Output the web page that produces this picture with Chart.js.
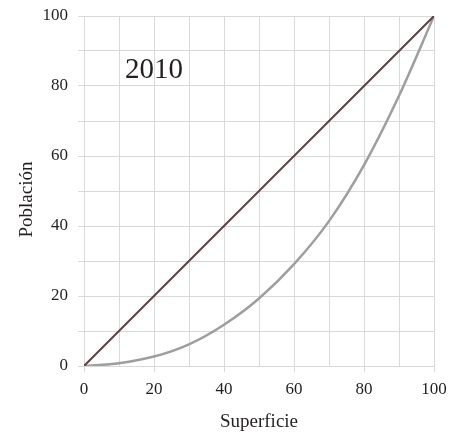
<!DOCTYPE html>
<html lang="es">
<head>
<meta charset="utf-8">
<title>Curva de Lorenz 2010</title>
<script src="https://cdn.jsdelivr.net/npm/chart.js@4/dist/chart.umd.min.js"></script>
<style>
  html, body { margin: 0; padding: 0; background: #ffffff; }
  #wrap { position: relative; width: 449px; height: 436px; }
</style>
</head>
<body>
<div id="wrap"><canvas id="lorenz"></canvas></div>
<script>
// Superficie acumulada (%) y población acumulada (%), por deciles
const superficie = [0, 10, 20, 30, 40, 50, 60, 70, 80, 90, 100];
const poblacion = [0, 0.8, 2.7, 6.2, 11.8, 19.3, 29.1, 41.4, 57.4, 77.2, 100];

// Línea de igualdad
const igualdadX = [0, 100];
const igualdadY = [0, 100];

// Marcas de los ejes
const ticksX = [0, 20, 40, 60, 80, 100];
const ticksY = [0, 20, 40, 60, 80, 100];

const anio = '2010';
const tituloX = 'Superficie';
const tituloY = 'Población';

const SERIF = '"Liberation Serif", "DejaVu Serif", serif';
const TEXT = '#231f20';
const GRID = '#d9d9d9';

const pares = (xs, ys) => xs.map((x, i) => ({ x: x, y: ys[i] }));

// Sin relleno extra de las escalas: el margen lo fija layout.padding
const sinRelleno = (s) => {
  s.paddingTop = 0;
  s.paddingBottom = 0;
  s.paddingLeft = 0;
  s.paddingRight = 0;
};

// Etiqueta del año y título vertical, dibujados sobre el lienzo
const textos = {
  id: 'textos',
  afterDraw(chart) {
    const ctx = chart.ctx;
    const { x, y } = chart.scales;
    ctx.save();
    ctx.fillStyle = TEXT;
    ctx.font = '29px ' + SERIF;
    ctx.textAlign = 'center';
    ctx.textBaseline = 'alphabetic';
    ctx.fillText(anio, x.getPixelForValue(20), y.getPixelForValue(82.4));
    ctx.restore();

    ctx.save();
    ctx.fillStyle = TEXT;
    ctx.font = '19px ' + SERIF;
    ctx.translate(31.5, 199.5);
    ctx.rotate(-Math.PI / 2);
    ctx.textAlign = 'center';
    ctx.textBaseline = 'alphabetic';
    ctx.fillText(tituloY, 0, 0);
    ctx.restore();
  }
};

new Chart(document.getElementById('lorenz'), {
  type: 'line',
  data: {
    datasets: [
      {
        label: 'Igualdad',
        data: pares(igualdadX, igualdadY),
        borderColor: '#5f4144',
        borderWidth: 2,
        pointRadius: 0,
        tension: 0
      },
      {
        label: anio,
        data: pares(superficie, poblacion),
        borderColor: '#9e9ea0',
        borderWidth: 2.5,
        pointRadius: 0,
        cubicInterpolationMode: 'monotone'
      }
    ]
  },
  options: {
    responsive: true,
    maintainAspectRatio: false,
    animation: false,
    events: [],
    layout: { padding: { left: 0, right: 15, top: 16, bottom: 0 } },
    plugins: {
      legend: { display: false },
      tooltip: { enabled: false }
    },
    scales: {
      x: {
        type: 'linear',
        min: 0,
        max: 100,
        border: { display: false },
        grid: {
          color: GRID,
          lineWidth: 1,
          tickLength: 6,
          tickColor: (c) => (c.tick && ticksX.includes(c.tick.value)) ? GRID : 'rgba(0,0,0,0)'
        },
        ticks: {
          stepSize: 10,
          padding: 7,
          color: TEXT,
          font: { family: SERIF, size: 17 },
          maxRotation: 0,
          autoSkip: false,
          callback: (v) => ticksX.includes(v) ? String(v) : ''
        },
        title: {
          display: true,
          text: tituloX,
          color: TEXT,
          font: { family: SERIF, size: 19 },
          padding: { top: 0, bottom: 3 }
        },
        afterFit: (s) => { s.height = 70; sinRelleno(s); }
      },
      y: {
        type: 'linear',
        min: 0,
        max: 100,
        border: { display: false },
        grid: {
          color: GRID,
          lineWidth: 1,
          tickLength: 6,
          tickColor: GRID
        },
        ticks: {
          stepSize: 10,
          padding: 10,
          color: TEXT,
          font: { family: SERIF, size: 17 },
          autoSkip: false,
          callback: (v) => ticksY.includes(v) ? String(v) : ''
        },
        afterFit: (s) => { s.width = 84; sinRelleno(s); }
      }
    }
  },
  plugins: [textos]
});
</script>
</body>
</html>
